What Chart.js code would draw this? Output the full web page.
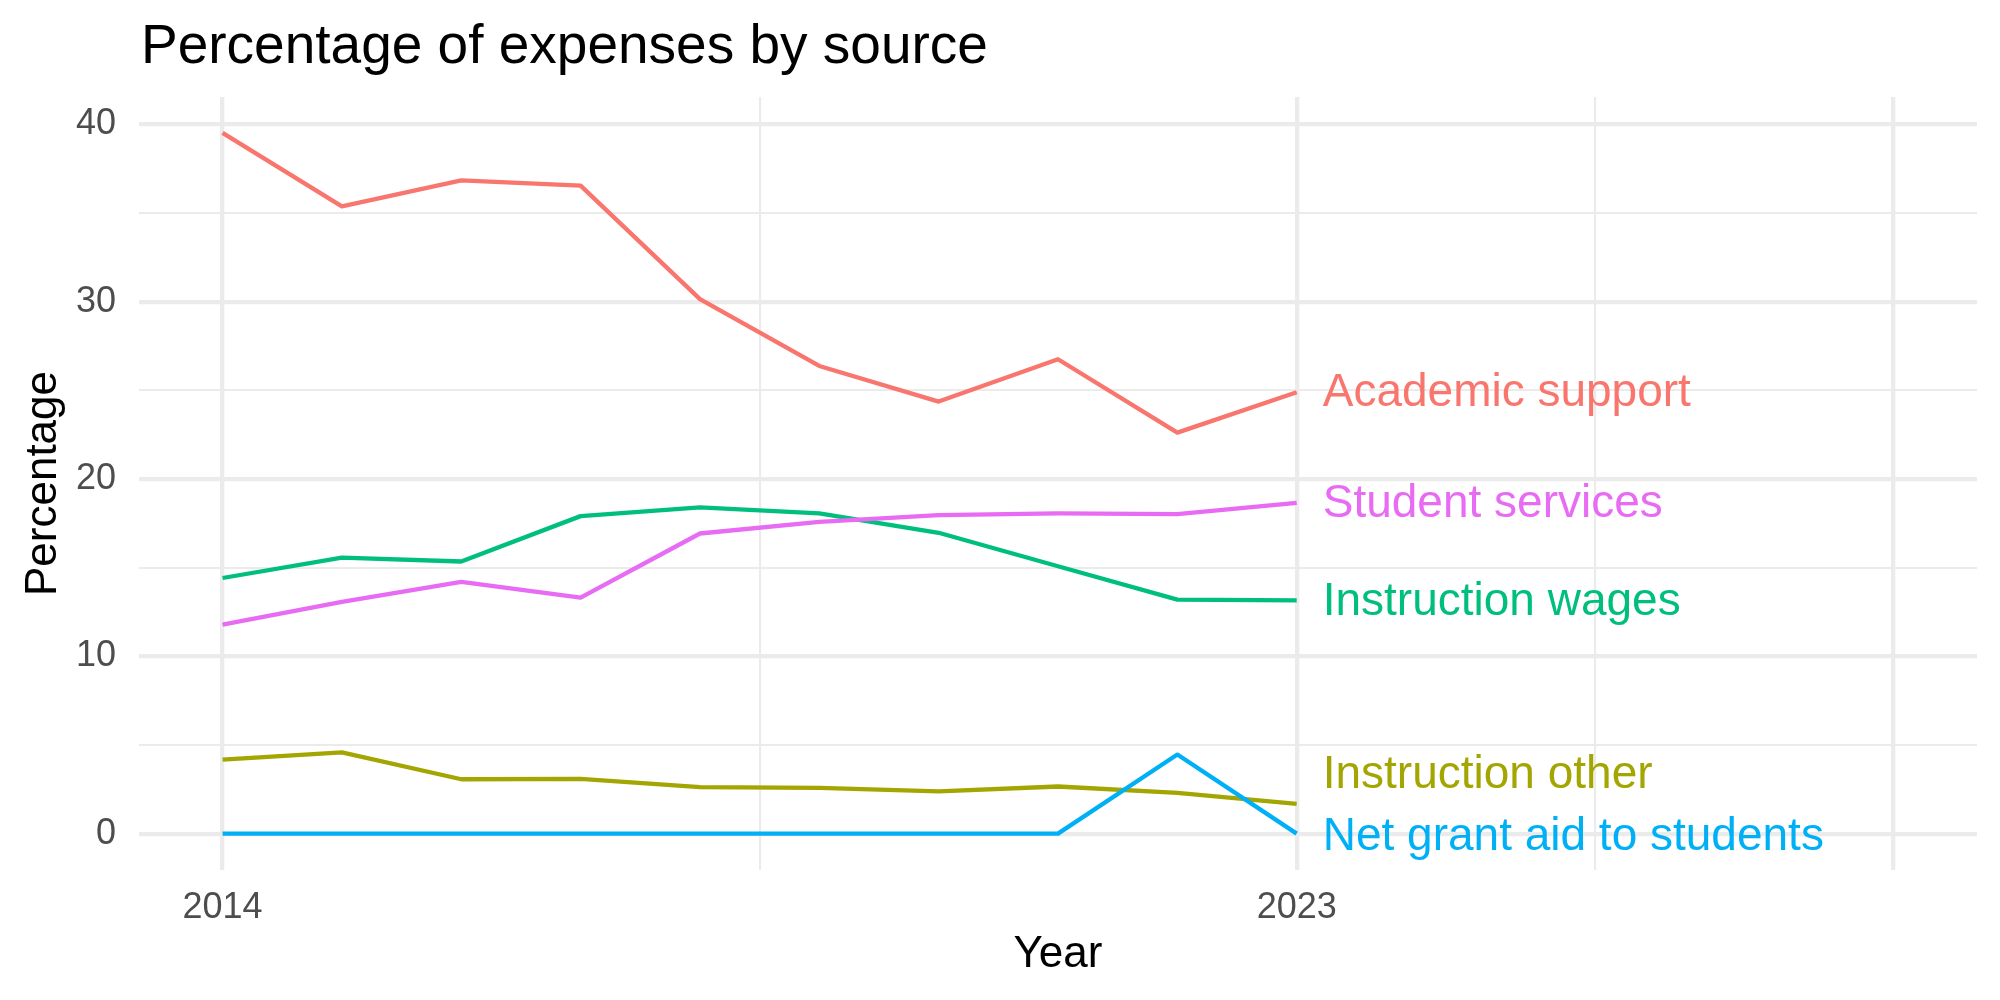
<!DOCTYPE html>
<html>
<head>
<meta charset="utf-8">
<title>Percentage of expenses by source</title>
<script src="https://cdn.jsdelivr.net/npm/chart.js@4"></script>
<style>
  html, body { margin: 0; padding: 0; background: #fff; }
  #wrap { width: 2000px; height: 1000px; }
</style>
</head>
<body>
<div id="wrap"><canvas id="expensesChart" width="2000" height="1000"></canvas></div>
<script>
// data
const years = [2014, 2015, 2016, 2017, 2018, 2019, 2020, 2021, 2022, 2023];
const seriesNames = ['Academic support', 'Instruction other', 'Instruction wages', 'Net grant aid to students', 'Student services'];
const academicSupport = [39.53, 35.38, 36.85, 36.55, 30.15, 26.38, 24.37, 26.76, 22.62, 24.90];
const instructionOther = [4.18, 4.58, 3.07, 3.09, 2.63, 2.58, 2.39, 2.66, 2.30, 1.68];
const instructionWages = [14.42, 15.57, 15.35, 17.91, 18.40, 18.06, 16.97, 15.08, 13.20, 13.16];
const netGrantAid = [0, 0, 0, 0, 0, 0, 0, 0, 4.46, 0];
const studentServices = [11.79, 13.07, 14.20, 13.31, 16.93, 17.59, 17.97, 18.06, 18.02, 18.66];
// where the repelled end labels sit (in data units)
const labelValues = [24.86, 3.28, 13.07, -0.21, 18.59];

const xTickLabels = [2014, 2023];
const xMajorBreaks = [2014, 2023, 2028];
const xMinorBreaks = [2018.5, 2025.5];
const yMajorBreaks = [0, 10, 20, 30, 40];
const yMinorBreaks = [5, 15, 25, 35];

const colors = ['#F8766D', '#A3A500', '#00BF7D', '#00B0F6', '#E76BF3'];
const allSeries = [academicSupport, instructionOther, instructionWages, netGrantAid, studentServices];

const FONT = "'Liberation Sans', Arial, sans-serif";

// titles and end labels, ggplot style
const textPlugin = {
    id: 'ggText',
    afterDraw(chart) {
        const ctx = chart.ctx;
        const area = chart.chartArea;
        const xs = chart.scales.x;
        const ys = chart.scales.y;
        ctx.save();

        ctx.fillStyle = '#000';
        ctx.font = '55px ' + FONT;
        ctx.textAlign = 'left';
        ctx.textBaseline = 'alphabetic';
        ctx.fillText('Percentage of expenses by source', 141, 63);

        ctx.font = '44px ' + FONT;
        ctx.textAlign = 'center';
        ctx.fillText('Year', (area.left + area.right) / 2, 967);

        ctx.save();
        ctx.translate(56, (area.top + area.bottom) / 2);
        ctx.rotate(-Math.PI / 2);
        ctx.fillText('Percentage', 0, 0);
        ctx.restore();

        // end-of-line labels
        ctx.font = '46px ' + FONT;
        ctx.textAlign = 'left';
        ctx.textBaseline = 'middle';
        const lastYear = years[years.length - 1];
        seriesNames.forEach(function(name, i) {
            ctx.fillStyle = colors[i];
            ctx.fillText(name, xs.getPixelForValue(lastYear) + 26, ys.getPixelForValue(labelValues[i]));
        });
        ctx.restore();
    }
};

function gridWidth(majors) {
    return function(context) {
        if (!context.tick) return 0;
        return majors.indexOf(context.tick.value) >= 0 ? 4.3 : 2.1;
    };
}

new Chart(document.getElementById('expensesChart'), {
    type: 'line',
    data: {
        datasets: seriesNames.map(function(name, i) {
            return {
                label: name,
                data: years.map(function(y, j) { return { x: y, y: allSeries[i][j] }; }),
                borderColor: colors[i],
                backgroundColor: colors[i],
                borderWidth: 4.3,
                borderCapStyle: 'butt',
                borderJoinStyle: 'round',
                pointRadius: 0,
                tension: 0,
                fill: false,
                order: seriesNames.length - i
            };
        })
    },
    options: {
        responsive: false,
        animation: false,
        layout: {
            padding: { top: 97, right: 23, left: 0, bottom: 0 }
        },
        scales: {
            x: {
                type: 'linear',
                min: 2013.3,
                max: 2028.7,
                afterBuildTicks: function(scale) {
                    scale.ticks = xMajorBreaks.concat(xMinorBreaks).sort().map(function(v) { return { value: v }; });
                },
                afterFit: function(scale) { scale.height = 130; },
                border: { display: false },
                grid: {
                    color: '#EBEBEB',
                    lineWidth: gridWidth(xMajorBreaks),
                    drawTicks: false
                },
                ticks: {
                    autoSkip: false,
                    maxRotation: 0,
                    padding: 16,
                    color: '#4D4D4D',
                    font: { family: FONT, size: 36 },
                    callback: function(value) {
                        return xTickLabels.indexOf(value) >= 0 ? String(value) : '';
                    }
                }
            },
            y: {
                min: -2.05,
                max: 41.55,
                afterBuildTicks: function(scale) {
                    scale.ticks = yMajorBreaks.concat(yMinorBreaks).sort(function(a, b) { return a - b; })
                        .map(function(v) { return { value: v }; });
                },
                afterFit: function(scale) { scale.width = 139; },
                border: { display: false },
                grid: {
                    color: '#EBEBEB',
                    lineWidth: gridWidth(yMajorBreaks),
                    drawTicks: false
                },
                ticks: {
                    autoSkip: false,
                    padding: 23,
                    color: '#4D4D4D',
                    font: { family: FONT, size: 36 },
                    callback: function(value) {
                        return yMajorBreaks.indexOf(value) >= 0 ? String(value) : '';
                    }
                }
            }
        },
        plugins: {
            legend: { display: false },
            tooltip: { enabled: false },
            title: { display: false }
        }
    },
    plugins: [textPlugin]
});
</script>
</body>
</html>
